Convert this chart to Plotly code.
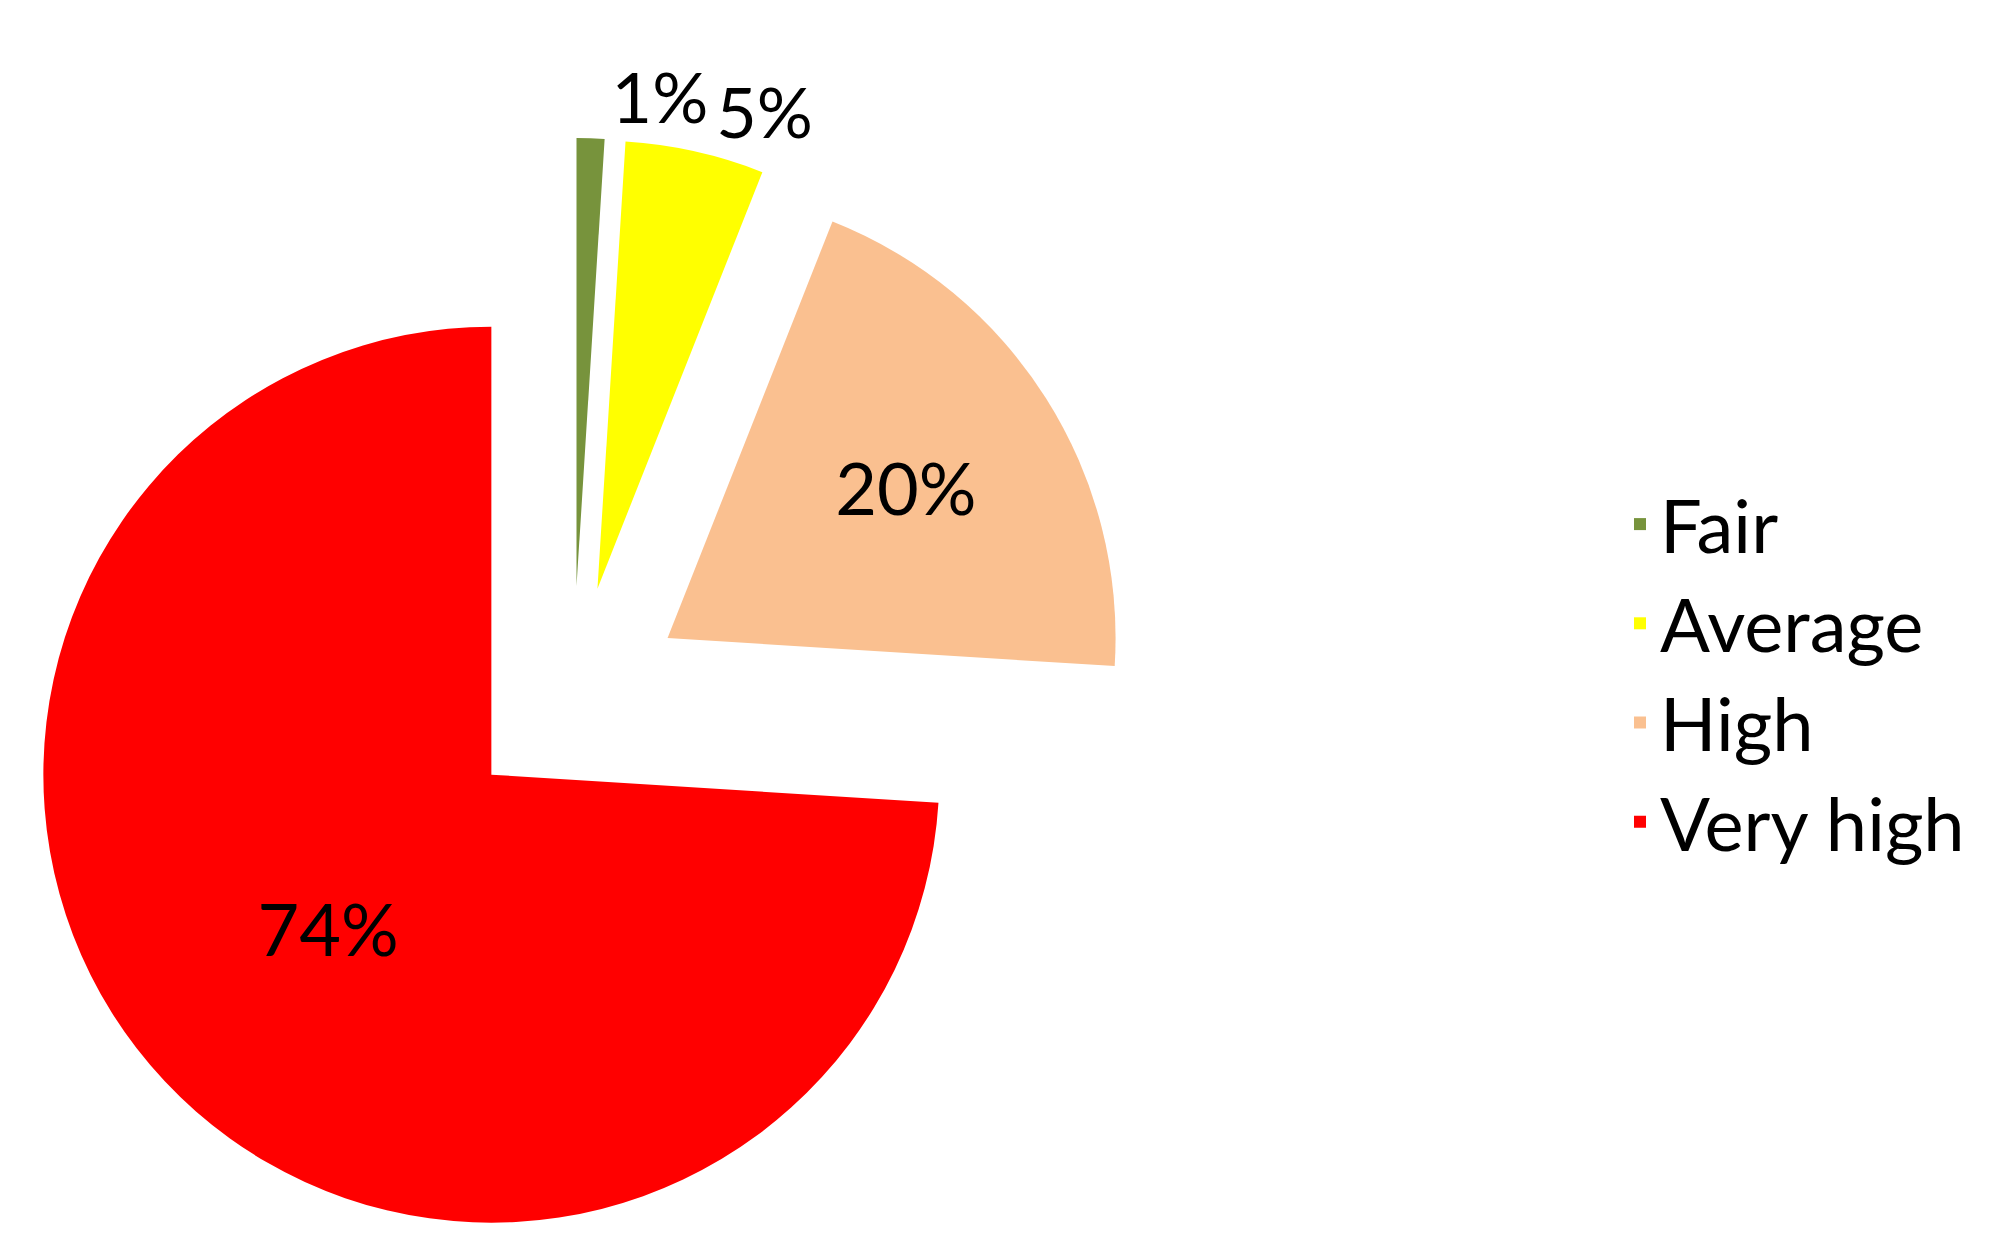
import plotly.graph_objects as go

categories = ["Fair", "Average", "High", "Very high"]
shares = [1, 5, 20, 74]
colors = ["#77933C", "#FFFF00", "#FAC090", "#FF0000"]

# main pie: all slices, labels for Fair (outside), High and Very high (inside)
main_text_positions = ["outside", "none", "inside", "inside"]
# overlay pie (transparent, same geometry) carries the "Average" label so that
# plotly does not stack it against the "Fair" label
overlay_text_positions = ["none", "outside", "none", "none"]

common = dict(
    labels=categories,
    values=shares,
    sort=False,
    direction="clockwise",
    rotation=0,
    pull=0.25,
    automargin=False,
    texttemplate="%{percent:.0%}",
    insidetextorientation="horizontal",
    textfont=dict(family="Lato", size=72, color="black"),
    outsidetextfont=dict(family="Lato", size=70, color="black"),
    insidetextfont=dict(family="Lato", size=72, color="black"),
    domain=dict(x=[0.0025, 0.5625], y=[0, 0.896]),
)

fig = go.Figure()
fig.add_trace(
    go.Pie(
        marker=dict(colors=colors, line=dict(width=0)),
        textposition=main_text_positions,
        hoverinfo="label+percent",
        showlegend=True,
        **common,
    )
)
fig.add_trace(
    go.Pie(
        marker=dict(colors=["rgba(0,0,0,0)"] * len(categories), line=dict(width=0)),
        textposition=overlay_text_positions,
        hoverinfo="skip",
        showlegend=False,
        **common,
    )
)

fig.update_layout(
    width=2000,
    height=1250,
    margin=dict(l=0, r=0, t=0, b=0),
    paper_bgcolor="white",
    plot_bgcolor="white",
    font=dict(family="Lato", color="black"),
    showlegend=True,
    legend=dict(
        x=0.806,
        xanchor="left",
        y=0.468,
        yanchor="middle",
        font=dict(family="Lato", size=74, color="black"),
        bgcolor="rgba(0,0,0,0)",
        traceorder="normal",
    ),
)

fig.write_html("out.html")
